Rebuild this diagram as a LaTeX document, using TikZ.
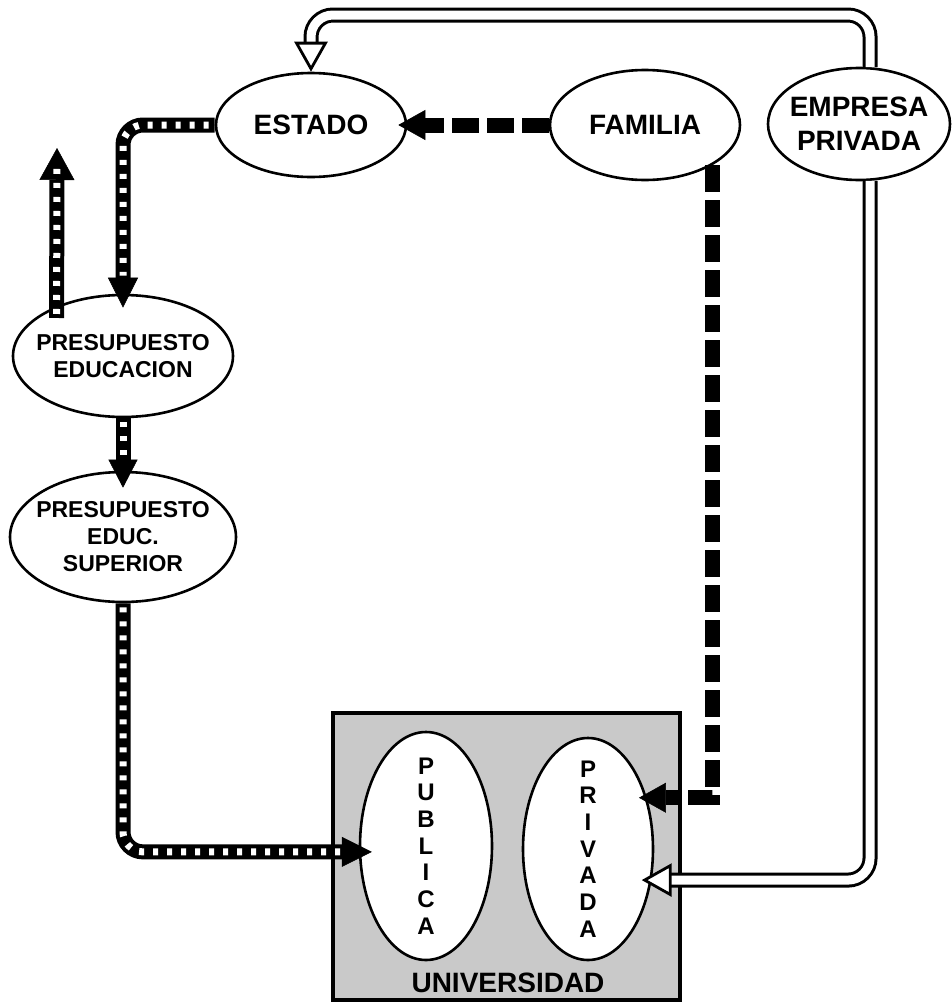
\documentclass[tikz,border=0pt]{standalone}
\usepackage{fontspec}
\setmainfont{Liberation Sans}
\usetikzlibrary{shapes.geometric,arrows.meta,calc}
\begin{document}
\begin{tikzpicture}[x=1pt,y=-1pt,
 ell/.style={draw, line width=2.6pt, ellipse, inner sep=-60pt, fill=white, align=center, font=\bfseries\fontsize{23}{27}\selectfont},
 big/.style={font=\bfseries\fontsize{28}{34}\selectfont},
 letters/.style={font=\bfseries\fontsize{24}{26.7}\selectfont},
 outerS/.style={draw=black, line width=15pt, rounded corners=20pt},
 innerS/.style={draw=white, line width=7pt, dash pattern=on 5pt off 9pt, rounded corners=20pt},
 blk/.style={draw=black, line width=15pt, dash pattern=on 27pt off 8pt},
 tubeO/.style={draw=black, line width=15pt, rounded corners=22pt},
 tubeI/.style={draw=white, line width=9pt, rounded corners=22pt},
 stip/.style={-{Triangle[length=30pt,width=30pt,line width=0.5pt]}},
 btip/.style={-{Triangle[length=27pt,width=30pt,line width=0.5pt]}},
 wtip/.style={-{Triangle[length=30pt,width=33pt,line width=2.8pt,fill=white]}},
]
\useasboundingbox (0,0) rectangle (951,1004);

% University box
\node[draw, line width=3.5pt, fill=black!21, minimum width=347pt, minimum height=287pt, inner sep=0pt] (uni) at (506.5,856.5) {};
\node[big] (unitxt) at (508,983) {UNIVERSIDAD};

% Ellipses
\node[ell, minimum width=190pt, minimum height=104pt, big] (est) at (311,125) {ESTADO};
\node[ell, minimum width=190pt, minimum height=110pt, big] (fam) at (645,125) {FAMILIA};
\node[ell, minimum width=182pt, minimum height=112pt, big] (emp) at (859,124) {EMPRESA\\PRIVADA};
\node[ell, minimum width=220pt, minimum height=122pt] (pe) at (123,356) {PRESUPUESTO\\EDUCACION};
\node[ell, minimum width=226pt, minimum height=130pt] (ps) at (123,537) {PRESUPUESTO\\EDUC.\\SUPERIOR};
\node[ell, minimum width=132pt, minimum height=228pt, letters] (pub) at (426,846) {P\\U\\B\\L\\I\\C\\A};
\node[ell, minimum width=130pt, minimum height=222pt, letters] (pri) at (588,849) {P\\R\\I\\V\\A\\D\\A};

\coordinate (ytop) at (0,15);
\coordinate (uptip) at (57,148);

% Empresa -> Estado (white tube)
\draw[tubeO, wtip] (emp.79) -- (emp.79 |- ytop) -- (est.north |- ytop) -- (est.north);
\draw[tubeI, shorten >=30pt] (emp.79) -- (emp.79 |- ytop) -- (est.north |- ytop) -- (est.north);

% Empresa -> Privada (white tube)
\draw[tubeO, wtip, shorten >=-10pt] (emp.-79) |- (pri.-26);
\draw[tubeI, shorten >=20pt] (emp.-79) |- (pri.-26);

% Familia -> Estado
\draw[blk, btip, shorten >=-9pt] (fam.west) -- (est.east);

% Familia -> Privada
\draw[blk, btip, shorten >=-8pt] (fam.-31) |- (pri.41);

% Estado -> Presupuesto Educacion
\draw[outerS, stip, shorten >=-14pt] (est.west) -| (pe.north);
\draw[innerS, shorten >=18pt, shorten <=6pt] (est.west) -| (pe.north);

% Up arrow from Presupuesto Educacion
\draw[outerS, -{Triangle[length=32pt,width=35pt,line width=0.5pt]}, shorten <=-12pt] (pe.143.5) -- (uptip);
\draw[innerS, shorten <=-8pt, shorten >=16pt] (pe.143.5) -- (uptip);

% Presupuesto Educacion -> Presupuesto Superior
\draw[outerS, -{Triangle[length=28pt,width=29pt,line width=0.5pt]}, shorten >=-17pt] (pe.south) -- (ps.north);
\draw[innerS, shorten >=11pt, shorten <=4pt] (pe.south) -- (ps.north);

% Presupuesto Superior -> Publica
\draw[outerS, stip, shorten >=-13pt] (ps.south) |- (pub.185);
\draw[innerS, shorten >=17pt, shorten <=4pt] (ps.south) |- (pub.185);
\end{tikzpicture}
\end{document}
